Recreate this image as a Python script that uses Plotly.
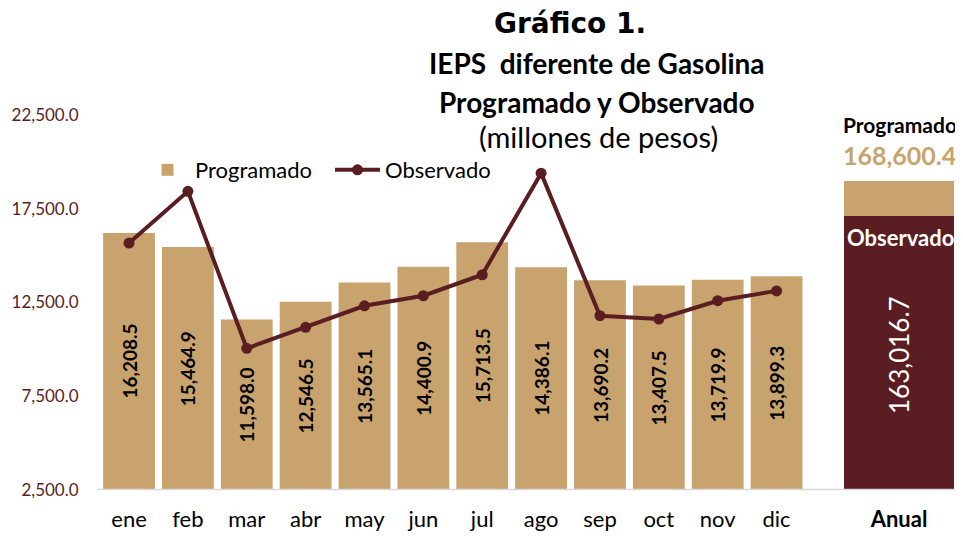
import plotly.graph_objects as go

meses = ["ene", "feb", "mar", "abr", "may", "jun", "jul", "ago", "sep", "oct", "nov", "dic"]
programado = [16208.5, 15464.9, 11598.0, 12546.5, 13565.1, 14400.9, 15713.5, 14386.1, 13690.2, 13407.5, 13719.9, 13899.3]
observado = [15670, 18430, 10055, 11175, 12325, 12860, 13980, 19400, 11795, 11620, 12595, 13120]
anual_categoria = ["Anual"]
anual_programado = [168600.4]
anual_observado = [163016.7]
y_ticks = [2500, 7500, 12500, 17500, 22500]

TAN = "#C8A36E"
DARK = "#5A1D22"
FONT = "Lato"
OFF = 8  # page body margin
W, H = 963 - OFF, 536 - OFF

def px(x):
    return (x - OFF) / W

def py(y):
    return (H - (y - OFF)) / H

fig = go.Figure()

fig.add_trace(go.Bar(
    x=meses, y=programado, name="Programado", marker_color=TAN,
    marker_line_width=0, xaxis="x", yaxis="y",
))
fig.add_trace(go.Scatter(
    x=meses, y=observado, name="Observado", mode="lines+markers",
    line=dict(color=DARK, width=4), marker=dict(color=DARK, size=11),
    xaxis="x", yaxis="y",
))

fig.add_trace(go.Bar(
    x=anual_categoria, y=anual_programado, marker_color=TAN, marker_line_width=0,
    width=0.873, showlegend=False, xaxis="x2", yaxis="y2",
))
fig.add_trace(go.Bar(
    x=anual_categoria, y=anual_observado, marker_color=DARK, marker_line_width=0,
    width=0.873, showlegend=False, xaxis="x2", yaxis="y2",
))

# value labels centred on the visible part of each bar (bars rise from the axis floor)
y_min = y_ticks[0]
for m, v in zip(meses, programado):
    fig.add_annotation(x=m, y=(v + y_min) / 2, xref="x", yref="y", text=f"<b>{v:,.1f}</b>",
                       showarrow=False, textangle=-90, xanchor="center", yanchor="middle",
                       font=dict(family=FONT, size=19, color="black"))

ydom = [py(490), py(115)]

fig.update_layout(
    width=W, height=H, margin=dict(l=0, r=0, t=0, b=0, autoexpand=False),
    plot_bgcolor="white", paper_bgcolor="white",
    barmode="overlay", bargap=0.12,
    font=dict(family=FONT, color="black"),
    xaxis=dict(domain=[px(99.6), px(806)], range=[-0.5, 11.5], showgrid=False, automargin=False,
               showline=False, ticks="", tickfont=dict(size=22, color="black"),
               ticklabelstandoff=14),
    yaxis=dict(domain=ydom, range=[2500, 22500], tickvals=y_ticks, tickformat=",.1f",
               showgrid=False, zeroline=False, showline=False, ticks="", automargin=False,
               tickfont=dict(size=17, color=DARK), ticklabelstandoff=20),
    xaxis2=dict(domain=[px(836), px(962)], range=[-0.5, 0.5], anchor="y2", showgrid=False,
                showline=False, ticks="", automargin=False,
                tickfont=dict(size=22, color="black", weight="bold"),
                ticklabelstandoff=14),
    yaxis2=dict(domain=ydom, range=[119305, 179129], anchor="x2", visible=False, automargin=False),
    legend=dict(orientation="h", x=px(140), y=py(170), xanchor="left", yanchor="middle",
                font=dict(size=22, color="black"), bgcolor="rgba(0,0,0,0)", itemwidth=45,
                entrywidth=130, traceorder="normal"),
    showlegend=True,
)

fig.add_shape(type="line", xref="paper", yref="paper", x0=px(97), x1=1.0,
              y0=py(489.5), y1=py(489.5), line=dict(color="#D9D9D9", width=1.5), layer="above")

ann = [
    dict(text="<b>Gráfico 1.</b>", x=px(570), y=py(24), size=28, color="black", family="DejaVu Sans"),
    dict(text="<b>IEPS  diferente de Gasolina</b>", x=px(597), y=py(63), size=28, color="black", family=FONT),
    dict(text="<b>Programado y Observado</b>", x=px(597), y=py(102), size=28, color="black", family=FONT),
    dict(text="(millones de pesos)", x=px(598), y=py(136), size=29, color="black", family=FONT),
    dict(text="<b>Programado</b>", x=px(900), y=py(124), size=21, color="black", family=FONT),
    dict(text=f"<b>{anual_programado[0]:,.1f}</b>", x=px(899), y=py(155), size=25, color=TAN, family=FONT),
    dict(text="<b>Observado</b>", x=px(900), y=py(238), size=22, color="white", family=FONT),
]
for a in ann:
    fig.add_annotation(text=a["text"], x=a["x"], y=a["y"], xref="paper", yref="paper",
                       showarrow=False, xanchor="center", yanchor="middle",
                       font=dict(size=a["size"], color=a["color"], family=a["family"]))
fig.add_annotation(text=f"{anual_observado[0]:,.1f}", x=px(899), y=py(355), xref="paper", yref="paper",
                   showarrow=False, textangle=-90, xanchor="center", yanchor="middle",
                   font=dict(size=26, color="white", family=FONT))

fig.write_html("out.html")
